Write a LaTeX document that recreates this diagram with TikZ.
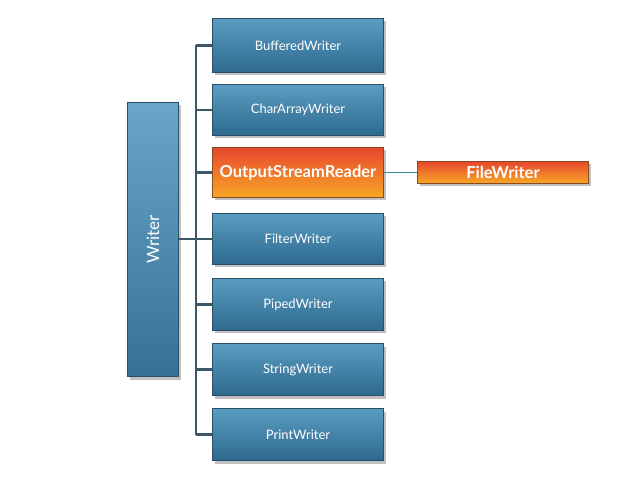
\documentclass[tikz,border=0pt]{standalone}
\usepackage{fontspec}
\setmainfont{Lato}
\usetikzlibrary{shadows}
\definecolor{bluetop}{HTML}{5A9CC2}
\definecolor{bluebot}{HTML}{2E6A8E}
\definecolor{blueedge}{HTML}{2A4F66}
\definecolor{ortop}{HTML}{E8472E}
\definecolor{orbot}{HTML}{F7A825}
\definecolor{oredge}{HTML}{8A4A20}
\definecolor{linec}{HTML}{3A5868}
\definecolor{linkc}{HTML}{3D8AA8}
\begin{document}
\begin{tikzpicture}[x=1pt,y=-1pt,
  boxbase/.style={draw, line width=1pt, inner sep=0pt, anchor=north west,
     drop shadow={shadow xshift=2pt, shadow yshift=-3pt, opacity=0.35, fill=black!70}},
  bluebox/.style={boxbase, draw=blueedge, top color=bluetop, bottom color=bluebot,
     text=white, font=\fontsize{13}{15}\selectfont},
  orbox/.style={boxbase, draw=oredge, top color=ortop, bottom color=orbot,
     text=white, font=\bfseries\fontsize{16.5}{18}\selectfont},
  conn/.style={draw=linec, line width=2.2pt},
]
\useasboundingbox (0,0) rectangle (627,481);
\fill[white] (0,0) rectangle (627,481);

\node[boxbase, draw=blueedge, top color=bluetop!90!white, bottom color=bluebot!85!bluetop,
  minimum width=51pt, minimum height=274pt] (writer) at (127,102) {};
\node[rotate=90, text=white, font=\fontsize{17}{19}\selectfont] (writerlbl) at (writer.center) {Writer};

\node[bluebox, minimum width=171pt, minimum height=54pt] (bw) at (212,18) {BufferedWriter};
\node[bluebox, minimum width=171pt, minimum height=51pt] (caw) at (212,84) {CharArrayWriter};
\node[orbox, minimum width=171pt, minimum height=50pt] (osr) at (212,147) {OutputStreamReader};
\node[bluebox, minimum width=171pt, minimum height=51pt] (fw) at (212,213) {FilterWriter};
\node[bluebox, minimum width=171pt, minimum height=52pt] (pw) at (212,278) {PipedWriter};
\node[bluebox, minimum width=171pt, minimum height=52pt] (sw) at (212,343) {StringWriter};
\node[bluebox, minimum width=171pt, minimum height=52pt] (prw) at (212,408) {PrintWriter};

\node[orbox, minimum width=171pt, minimum height=22pt] (filew) at (417,161) {FileWriter};

\coordinate (top) at (196,0 |- bw.west);
\coordinate (bot) at (196,0 |- prw.west);
\coordinate (mid) at (196,0 |- fw.west);
\draw[conn] (top) -- (bot);
\draw[conn] (writer.east |- mid) -- (mid);
\foreach \n in {bw,caw,osr,fw,pw,sw,prw}{
  \draw[conn] (196,0 |- \n.west) -- (\n.west);
}
\draw[draw=linkc, line width=1.6pt] (osr.east |- filew.west) -- (filew.west);
\end{tikzpicture}
\end{document}
